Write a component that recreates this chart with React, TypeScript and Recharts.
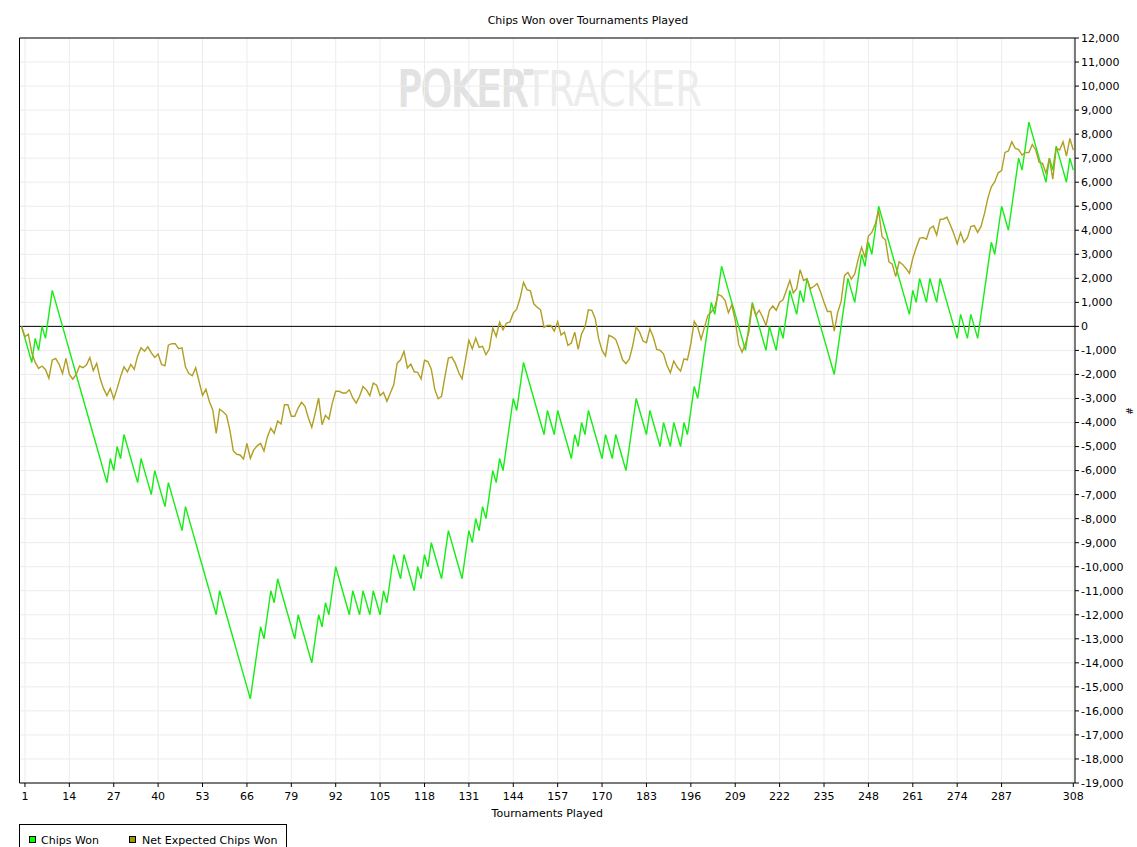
import React from "react";
import {
  LineChart,
  Line,
  XAxis,
  YAxis,
  CartesianGrid,
  ReferenceLine,
} from "recharts";

// cumulative chips won, one value per tournament (index = tournaments played)
const chipsWon = [
  0, -500, -1000, -1500, -500, -1000, 0, -500, 500, 1500,
  1000, 500, 0, -500, -1000, -1500, -2000, -2500, -3000, -3500,
  -4000, -4500, -5000, -5500, -6000, -6500, -5500, -6000, -5000, -5500,
  -4500, -5000, -5500, -6000, -6500, -5500, -6000, -6500, -7000, -6000,
  -6500, -7000, -7500, -6500, -7000, -7500, -8000, -8500, -7500, -8000,
  -8500, -9000, -9500, -10000, -10500, -11000, -11500, -12000, -11000, -11500,
  -12000, -12500, -13000, -13500, -14000, -14500, -15000, -15500, -14500, -13500,
  -12500, -13000, -12000, -11000, -11500, -10500, -11000, -11500, -12000, -12500,
  -13000, -12000, -12500, -13000, -13500, -14000, -13000, -12000, -12500, -11500,
  -12000, -11000, -10000, -10500, -11000, -11500, -12000, -11000, -11500, -12000,
  -11000, -11500, -12000, -11000, -11500, -12000, -11000, -11500, -10500, -9500,
  -10000, -10500, -9500, -10000, -10500, -11000, -10000, -10500, -9500, -10000,
  -9000, -9500, -10000, -10500, -9500, -8500, -9000, -9500, -10000, -10500,
  -9500, -8500, -9000, -8000, -8500, -7500, -8000, -7000, -6000, -6500,
  -5500, -6000, -5000, -4000, -3000, -3500, -2500, -1500, -2000, -2500,
  -3000, -3500, -4000, -4500, -3500, -4000, -4500, -3500, -4000, -4500,
  -5000, -5500, -4500, -5000, -4000, -4500, -3500, -4000, -4500, -5000,
  -5500, -4500, -5000, -5500, -4500, -5000, -5500, -6000, -5000, -4000,
  -3000, -3500, -4000, -4500, -3500, -4000, -4500, -5000, -4000, -4500,
  -5000, -4000, -4500, -5000, -4000, -4500, -3500, -2500, -3000, -2000,
  -1000, 0, 1000, 500, 1500, 2500, 2000, 1500, 1000, 500,
  0, -500, -1000, 0, 1000, 500, 0, -500, -1000, 0,
  -500, -1000, 0, -500, 500, 1500, 1000, 500, 1500, 1000,
  2000, 1500, 1000, 500, 0, -500, -1000, -1500, -2000, -1000,
  0, 1000, 2000, 1500, 1000, 2000, 3000, 2500, 3500, 3000,
  4000, 5000, 4500, 4000, 3500, 3000, 2500, 2000, 1500, 1000,
  500, 1500, 1000, 2000, 1500, 1000, 2000, 1500, 1000, 2000,
  1500, 1000, 500, 0, -500, 500, 0, -500, 500, 0,
  -500, 500, 1500, 2500, 3500, 3000, 4000, 5000, 4500, 4000,
  5000, 6000, 7000, 6500, 7500, 8500, 8000, 7500, 7000, 6500,
  6000, 7000, 6500, 7500, 7000, 6500, 6000, 7000, 6500,
];

// net expected chips won (all-in adjusted)
const netExpected = [
  0, -430, -330, -1100, -1500, -1750, -1650, -1790, -2160, -1400,
  -1330, -1580, -1960, -1330, -2000, -2200, -2000, -1650, -1720, -1610,
  -1300, -1840, -1540, -2160, -2580, -2880, -2580, -3020, -2580, -2090,
  -1680, -1890, -1580, -1790, -1230, -890, -1030, -850, -1100, -1290,
  -1150, -1580, -1640, -780, -720, -720, -930, -890, -1680, -1960,
  -2050, -1720, -2300, -2870, -2620, -3130, -3480, -4450, -3450, -3550,
  -3690, -4310, -5170, -5320, -5350, -5520, -4870, -5490, -5140, -4970,
  -4870, -5190, -4590, -4240, -4450, -3940, -4060, -3260, -3260, -3740,
  -3740, -3400, -3160, -3330, -3810, -4200, -3610, -2980, -4090, -3700,
  -3860, -3190, -2700, -2700, -2770, -2770, -2640, -2980, -3190, -2910,
  -2500, -2640, -2880, -2360, -2450, -2880, -2750, -3120, -2770, -2430,
  -1530, -1390, -1040, -1730, -1570, -1890, -1910, -2180, -1410, -1460,
  -1780, -2610, -3010, -2910, -2080, -1320, -1280, -1530, -1910, -2180,
  -1390, -580, -940, -490, -870, -830, -1180, -930, -70, -420,
  180, -140, 140, 180, 550, 720, 1180, 1830, 1530, 1480,
  940, 800, 690, -40, 40, 40, -200, 200, -360, -240,
  -790, -690, -240, -960, -310, -30, 690, 670, 320, -510,
  -1000, -1230, -370, -440, -540, -930, -1390, -1550, -1350, -790,
  -30, -240, -610, -680, -100, -440, -960, -1000, -1140, -1620,
  -1930, -1440, -1690, -1860, -1350, -1390, -720, 210, -30, -540,
  -30, 460, 600, 800, 1330, 1260, 1080, 570, 900, 250,
  -750, -1070, -720, -240, 920, 460, 670, 390, 40, 670,
  850, 670, 1010, 1110, 1500, 1910, 1390, 1570, 2360, 1910,
  1980, 1570, 1660, 1780, 1430, 1000, 620, 620, -200, 580,
  1030, 2110, 2250, 1970, 2180, 2790, 3290, 2870, 3760, 3910,
  4260, 4810, 3730, 3590, 2690, 2590, 2070, 2690, 2580, 2410,
  2210, 2830, 3270, 3660, 3700, 3630, 4080, 4170, 3800, 4450,
  4470, 4540, 4220, 3870, 3430, 3900, 3500, 3690, 4150, 4190,
  3910, 4170, 4700, 5350, 5810, 6020, 6390, 6480, 7240, 7300,
  7680, 7410, 7360, 7130, 7240, 7230, 7570, 7340, 6820, 6780,
  6370, 6990, 6130, 7410, 7340, 7680, 7090, 7820, 7340,
];

const xTicks = [1, 14, 27, 40, 53, 66, 79, 92, 105, 118, 131, 144, 157, 170, 183, 196, 209, 222, 235, 248, 261, 274, 287, 308];

const yTicks = [
  -19000, -18000, -17000, -16000, -15000, -14000, -13000, -12000, -11000, -10000,
  -9000, -8000, -7000, -6000, -5000, -4000, -3000, -2000, -1000, 0,
  1000, 2000, 3000, 4000, 5000, 6000, 7000, 8000, 9000, 10000, 11000, 12000,
];

const seriesNames = ["Chips Won", "Net Expected Chips Won"];

const FONT = "'DejaVu Sans', Tahoma, Verdana, sans-serif";
const GREEN = "#14ee14";
const OLIVE = "#b09f22";

const data = chipsWon.map((v, i) => ({ t: i, chips: v, expected: netExpected[i] }));

const fmt = (v: number) => v.toLocaleString("en-US");

export default function App() {
  return (
    <div
      style={{
        position: "absolute",
        left: 0,
        top: 0,
        width: 1137,
        height: 847,
        overflow: "hidden",
        background: "#fff",
        fontFamily: FONT,
      }}
    >
      {/* background layer: watermark, title, legend */}
      <svg width={1137} height={847} style={{ position: "absolute", left: 0, top: 0 }}>
        <defs>
          {/* "POKER" darker and heavier, "TRACKER" lighter */}
          <linearGradient id="wmFill" gradientUnits="userSpaceOnUse" x1={398} y1={0} x2={702} y2={0}>
            <stop offset="0.445" stopColor="#e2e2e2" />
            <stop offset="0.445" stopColor="#ececec" />
          </linearGradient>
          <linearGradient id="wmStroke" gradientUnits="userSpaceOnUse" x1={398} y1={0} x2={702} y2={0}>
            <stop offset="0.445" stopColor="#e2e2e2" stopOpacity={1} />
            <stop offset="0.445" stopColor="#ffffff" stopOpacity={0} />
          </linearGradient>
        </defs>
        <text
          x={398}
          y={106}
          fontFamily="'DejaVu Sans Condensed', 'DejaVu Sans', sans-serif"
          fontSize={50}
          fill="url(#wmFill)"
          stroke="url(#wmStroke)"
          strokeWidth={2.2}
          textLength={304}
          lengthAdjust="spacingAndGlyphs"
        >
          POKERTRACKER
        </text>
        <text x={588} y={24} textAnchor="middle" fontSize={11} fontFamily={FONT} fill="#000">
          Chips Won over Tournaments Played
        </text>
        <text
          x={1133}
          y={411}
          textAnchor="middle"
          fontSize={9}
          fontFamily={FONT}
          fill="#000"
          transform="rotate(-90 1133 411)"
        >
          #
        </text>
        <rect x={19.5} y={824.5} width={267} height={40} fill="#fff" stroke="#000" />
        <rect x={29.5} y={836.5} width={6} height={6} fill="#00ff00" stroke="#000" />
        <text x={41} y={844} fontSize={11} fontFamily={FONT} fill="#000">
          {seriesNames[0]}
        </text>
        <rect x={129.5} y={836.5} width={6} height={6} fill="#999900" stroke="#000" />
        <text x={142} y={844} fontSize={11} fontFamily={FONT} fill="#000">
          {seriesNames[1]}
        </text>
      </svg>

      <div style={{ position: "absolute", left: 0, top: 0 }}>
        <LineChart
          width={1137}
          height={847}
          data={data}
          margin={{ top: 38, right: 0, left: 19.5, bottom: 24 }}
        >
          <CartesianGrid stroke="#ececec" strokeWidth={1} />
          <XAxis
            dataKey="t"
            type="number"
            domain={[-0.6, 308.5]}
            ticks={xTicks}
            interval={0}
            height={40}
            tickSize={4}
            tickMargin={5}
            stroke="#000"
            tick={{ fill: "#000", fontSize: 11, fontFamily: FONT }}
            label={{
              value: "Tournaments Played",
              position: "insideBottom",
              offset: 6,
              fill: "#000",
              fontSize: 11,
              fontFamily: FONT,
            }}
          />
          <YAxis
            orientation="right"
            type="number"
            domain={[-19000, 12000]}
            ticks={yTicks}
            interval={0}
            width={62}
            tickSize={4}
            tickMargin={2}
            stroke="#000"
            tickFormatter={fmt}
            tick={{ fill: "#000", fontSize: 11, fontFamily: FONT }}
          />
          <ReferenceLine y={12000} stroke="#000" />
          <ReferenceLine x={-0.6} stroke="#000" />
          <ReferenceLine y={0} stroke="#000" />
          <Line
            type="linear"
            dataKey="chips"
            name={seriesNames[0]}
            stroke={GREEN}
            strokeWidth={1.4}
            dot={false}
            isAnimationActive={false}
          />
          <Line
            type="linear"
            dataKey="expected"
            name={seriesNames[1]}
            stroke={OLIVE}
            strokeWidth={1.4}
            dot={false}
            isAnimationActive={false}
          />
        </LineChart>
      </div>
    </div>
  );
}
